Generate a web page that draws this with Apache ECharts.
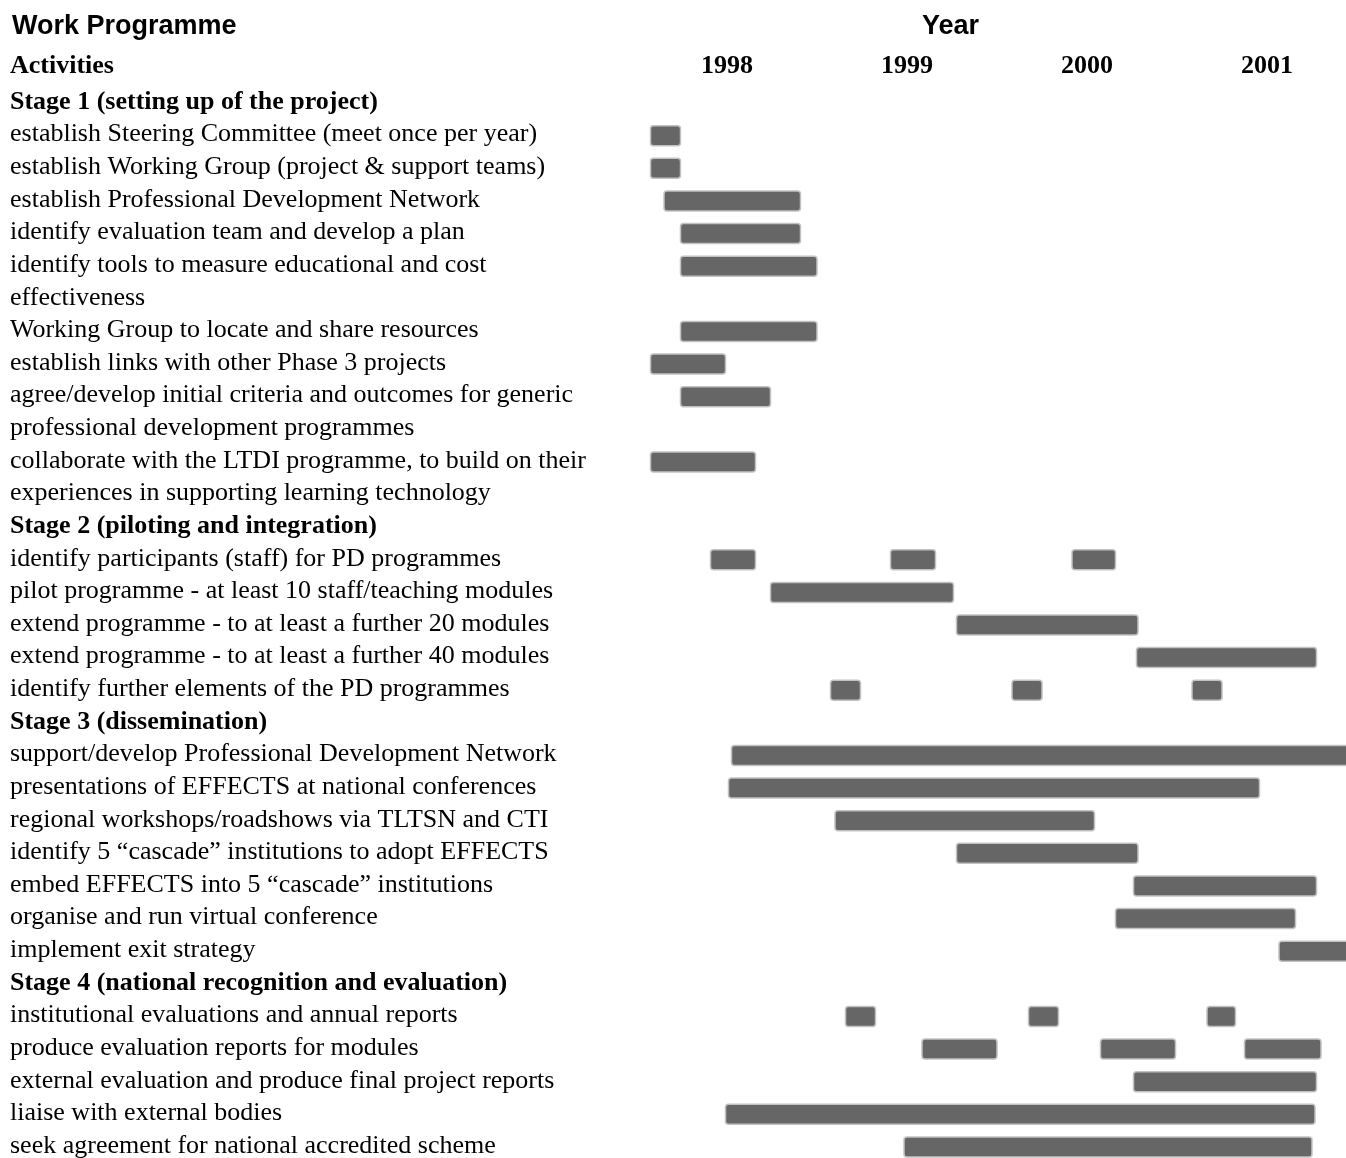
<!DOCTYPE html>
<html>
<head>
<meta charset="utf-8">
<script src="https://cdn.jsdelivr.net/npm/echarts@6/dist/echarts.min.js"></script>
<style>
  html, body { margin: 0; padding: 0; background: #fff; }
  #workChart { width: 1346px; height: 1158px; }
</style>
</head>
<body>
<div id="workChart"></div>
<script>
  // one entry per printed line of the activity column (wrapped lines are separate rows)
  const ROWS = [
    'Stage 1 (setting up of the project)',
    'establish Steering Committee (meet once per year)',
    'establish Working Group (project & support teams)',
    'establish Professional Development Network',
    'identify evaluation team and develop a plan',
    'identify tools to measure educational and cost',
    'effectiveness',
    'Working Group to locate and share resources',
    'establish links with other Phase 3 projects',
    'agree/develop initial criteria and outcomes for generic',
    'professional development programmes',
    'collaborate with the LTDI programme, to build on their',
    'experiences in supporting learning technology',
    'Stage 2 (piloting and integration)',
    'identify participants (staff) for PD programmes',
    'pilot programme - at least 10 staff/teaching modules',
    'extend programme - to at least a further 20 modules',
    'extend programme - to at least a further 40 modules',
    'identify further elements of the PD programmes',
    'Stage 3 (dissemination)',
    'support/develop Professional Development Network',
    'presentations of EFFECTS at national conferences',
    'regional workshops/roadshows via TLTSN and CTI',
    'identify 5 \u201ccascade\u201d institutions to adopt EFFECTS',
    'embed EFFECTS into 5 \u201ccascade\u201d institutions',
    'organise and run virtual conference',
    'implement exit strategy',
    'Stage 4 (national recognition and evaluation)',
    'institutional evaluations and annual reports',
    'produce evaluation reports for modules',
    'external evaluation and produce final project reports',
    'liaise with external bodies',
    'seek agreement for national accredited scheme'
  ];
  const HEADINGS = [0, 13, 19, 27];
  const YEARS = ['1998', '1999', '2000', '2001'];

  // bars: row index, start and end in months from January 1998
  const BAR_ROW = [
    1, 2, 3, 4, 5, 7, 8, 9, 11,
    14, 14, 14, 15, 16, 17, 18, 18, 18,
    20, 21, 22, 23, 24, 25, 26,
    28, 28, 28, 29, 29, 29, 30, 31, 32
  ];
  const BAR_START = [
    0.9, 0.9, 1.8, 2.9, 2.9, 2.9, 0.9, 2.9, 0.9,
    4.9, 16.9, 29.0, 8.9, 21.3, 33.3, 12.9, 25.0, 37.0,
    6.3, 6.1, 13.2, 21.3, 33.1, 31.9, 42.8,
    13.9, 26.1, 38.0, 19.0, 30.9, 40.5, 33.1, 5.9, 17.8
  ];
  const BAR_END = [
    2.9, 2.9, 10.9, 10.9, 12.0, 12.0, 5.9, 8.9, 7.9,
    7.9, 19.9, 31.9, 21.1, 33.4, 45.3, 14.9, 27.0, 39.0,
    48.0, 41.5, 30.5, 33.4, 45.3, 43.9, 48.0,
    15.9, 28.1, 39.9, 24.0, 35.9, 45.6, 45.3, 45.2, 45.0
  ];

  const serif = "'Liberation Serif', 'Times New Roman', serif";
  const sans = "'Liberation Sans', Arial, sans-serif";

  let barData = [];
  for (let i = 0; i < BAR_ROW.length; i++) {
    barData.push([BAR_START[i], BAR_END[i], BAR_ROW[i]]);
  }

  function renderBar(params, api) {
    let row = api.value(2);
    let p0 = api.coord([api.value(0), row]);
    let p1 = api.coord([api.value(1), row]);
    let h = 20;
    return {
      type: 'rect',
      shape: {x: p0[0], y: p0[1] - h / 2 + 1, width: p1[0] - p0[0], height: h, r: 3},
      style: {fill: '#666666', stroke: '#c2c2c2', lineWidth: 1.5}
    };
  }

  let workChart = echarts.init(document.getElementById('workChart'));
  workChart.setOption({
    animation: false,
    backgroundColor: '#ffffff',
    title: [
      {
        text: 'Work Programme', left: 12, top: 13, padding: 0,
        textStyle: {fontFamily: sans, fontSize: 27, fontWeight: 'bold', color: '#000'}
      },
      {
        text: 'Year', left: 922, top: 13, padding: 0,
        textStyle: {fontFamily: sans, fontSize: 27, fontWeight: 'bold', color: '#000'}
      },
      {
        text: 'Activities', left: 10, top: 53, padding: 0,
        textStyle: {fontFamily: serif, fontSize: 26, fontWeight: 'bold', color: '#000'}
      }
    ],
    // grid runs past the page edge, so the open-ended bars are cut by the page
    grid: {
      left: 637, top: 85.7, width: 720, height: 1076.6,
      outerBoundsMode: 'none', containLabel: false
    },
    xAxis: [
      {
        type: 'value', min: 0, max: 48, show: false
      },
      {
        type: 'category', position: 'top', data: YEARS, boundaryGap: true,
        axisLine: {show: false}, axisTick: {show: false}, splitLine: {show: false},
        axisLabel: {
          margin: 6,
          fontFamily: serif, fontSize: 26, fontWeight: 'bold', color: '#000'
        }
      }
    ],
    yAxis: {
      type: 'category', data: ROWS, inverse: true,
      axisLine: {show: false}, axisTick: {show: false}, splitLine: {show: false},
      axisLabel: {
        interval: 0,
        align: 'left',
        margin: 627,
        color: '#000',
        fontFamily: serif,
        fontSize: 26,
        formatter: function (value, index) {
          return HEADINGS.indexOf(index) >= 0 ? '{h|' + value + '}' : '{n|' + value + '}';
        },
        rich: {
          h: {fontFamily: serif, fontSize: 26, fontWeight: 'bold', color: '#000'},
          n: {fontFamily: serif, fontSize: 26, color: '#000'}
        }
      }
    },
    series: [{
      type: 'custom',
      renderItem: renderBar,
      xAxisIndex: 0,
      yAxisIndex: 0,
      encode: {x: [0, 1], y: 2},
      data: barData
    }]
  });
</script>
</body>
</html>
